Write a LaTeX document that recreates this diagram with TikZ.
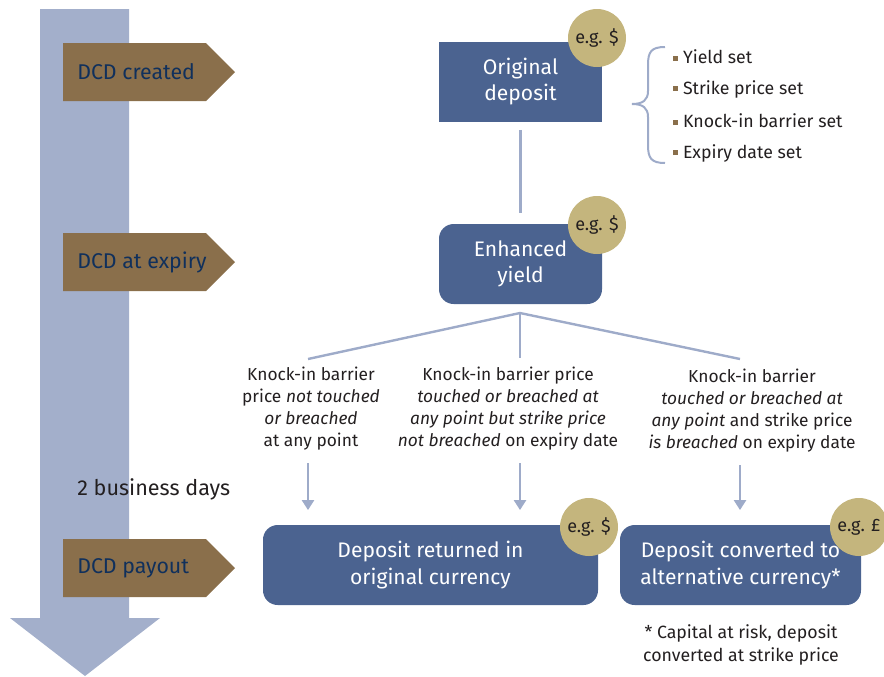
\documentclass[tikz,border=0pt]{standalone}
\usepackage{fontspec}
\setmainfont{Fira Sans}
\usetikzlibrary{shapes,arrows.meta,calc}
\usepackage{xcolor}

\definecolor{shaftblue}{HTML}{A3AFCB}
\definecolor{lineblue}{HTML}{9EABC9}
\definecolor{boxblue}{HTML}{4B6390}
\definecolor{coin}{HTML}{C4B57D}
\definecolor{dcdbrown}{HTML}{8A6F4B}
\definecolor{tagnavy}{HTML}{10305C}
\definecolor{ink}{HTML}{231F20}

\newcommand{\sqbullet}{\textcolor{dcdbrown}{\rule[0.3ex]{3.8pt}{3.8pt}}\hspace{3.5pt}}

\tikzset{
  stage/.style={fill=boxblue,text=white,align=center,minimum height=60pt,
    font=\fontsize{15.8}{20}\selectfont},
  coinlbl/.style={circle,fill=coin,text=ink,minimum size=43.5pt,inner sep=0pt,
    font=\fontsize{13.5}{14}\selectfont},
  cond/.style={align=center,text=ink,font=\fontsize{13}{16.5}\selectfont},
  tagtext/.style={anchor=west,text=tagnavy,inner sep=0pt,font=\fontsize{16}{18}\selectfont},
  link/.style={lineblue,line width=1.8pt},
  down/.style={lineblue,line width=1.8pt,-{Triangle[width=9pt,length=7.5pt]}}
}

\begin{document}
\begin{tikzpicture}[x=0.75pt,y=-0.75pt]
  \useasboundingbox (0,0) rectangle (884,676);

  % time line
  \fill[shaftblue] (40,9) -- (129,9) -- (129,618) -- (160,618) -- (85,676)
    -- (10,618) -- (40,618) -- cycle;

  \foreach \nm/\ty/\txt in {tcreated/72/DCD created,texpiry/262/DCD at expiry,tpayout/568/DCD payout}{
    \fill[dcdbrown] (63,\ty-29) -- (206,\ty-29) -- (235,\ty) -- (206,\ty+29) -- (63,\ty+29) -- cycle;
    \node[tagtext] (\nm) at (77,\ty) {\txt};
  }

  \node[anchor=west,text=ink,inner sep=0pt,font=\fontsize{16.2}{18}\selectfont] (days) at (77,489) {2 business days};

  % boxes
  \node[stage,minimum width=122.25pt] (orig) at (520.5,81.5) {Original\\deposit};
  \node[stage,rounded corners=11pt,minimum width=122.25pt] (enh) at (520.5,264) {Enhanced\\yield};
  \node[stage,rounded corners=11pt,minimum width=251.25pt] (ret) at (430.5,565) {Deposit returned in\\original currency};
  \node[stage,rounded corners=11pt,minimum width=180.75pt] (conv) at (740.5,565) {Deposit converted to\\alternative currency*};

  \node[coinlbl] (c1) at (597,38) {e.g. \$};
  \node[coinlbl] (c2) at (597,225) {e.g. \$};
  \node[coinlbl] (c3) at (589,527) {e.g. \$};
  \node[coinlbl] (c4) at (859,527) {e.g. £};

  % set at creation
  \draw[lineblue,line width=1.5pt] (665,47) .. controls (651,47) and (648,52) .. (648,65) -- (648,91)
    .. controls (648,100) and (643,104) .. (632,104) .. controls (643,104) and (648,108) .. (648,117)
    -- (648,145) .. controls (648,158) and (651,163) .. (665,163);
  \foreach \nm/\ty/\txt in {i1/57/Yield set,i2/89/Strike price set,i3/121/Knock-in barrier set,i4/153/Expiry date set}{
    \node[anchor=west,text=ink,inner sep=0pt,font=\fontsize{13.3}{15}\selectfont] (\nm) at (673,\ty) {\sqbullet\txt};
  }

  % outcomes
  \draw[link,shorten <=6pt,shorten >=8pt] (orig) -- (enh);
  \coordinate (apex) at (520,313);
  \coordinate (b1) at (308,359);
  \coordinate (b2) at (520,358);
  \coordinate (b3) at (740,359);
  \draw[link] (b1) -- (apex) -- (b3);
  \draw[link] (apex) -- (b2);

  \node[cond] (k1) at (311,409) {Knock-in barrier\\price \textit{not touched}\\\textit{or breached}\\at any point};
  \node[cond] (k2) at (508,409) {Knock-in barrier price\\\textit{touched or breached at}\\\textit{any point but strike price}\\\textit{not breached} on expiry date};
  \node[cond] (k3) at (752,411) {Knock-in barrier\\\textit{touched or breached at}\\\textit{any point} and strike price\\\textit{is breached} on expiry date};

  \draw[down,shorten <=6pt,shorten >=11pt] (b1 |- k1.south) -- (b1 |- ret.north);
  \draw[down,shorten <=6pt,shorten >=11pt] (b2 |- k2.south) -- (b2 |- ret.north);
  \draw[down,shorten <=6pt,shorten >=11pt] (b3 |- k3.south) -- (b3 |- conv.north);

  \node[cond,font=\fontsize{13.3}{17}\selectfont] (note) at (741,645) {* Capital at risk, deposit\\converted at strike price};
\end{tikzpicture}
\end{document}
